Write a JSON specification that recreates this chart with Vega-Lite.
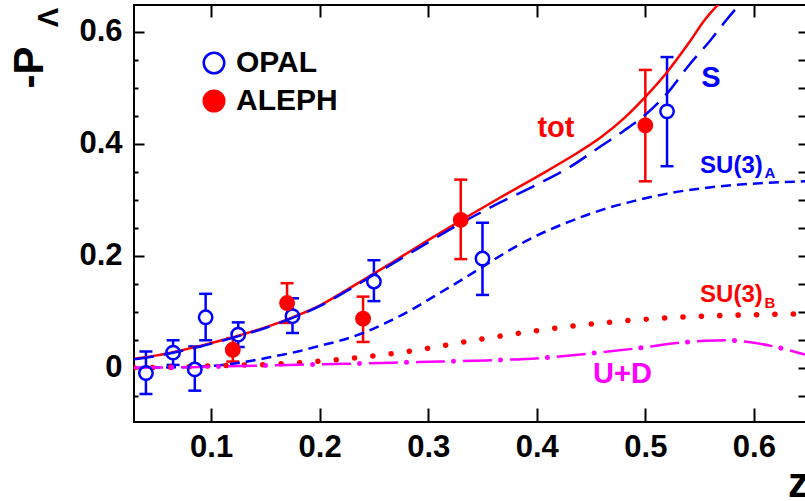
{
  "$schema": "https://vega.github.io/schema/vega-lite/v6.json",
  "width": 672,
  "height": 417,
  "autosize": {"type": "none"},
  "padding": {"left": 134, "top": 5, "right": 0, "bottom": 79},
  "background": "white",
  "config": {
    "view": {"stroke": "black", "strokeWidth": 2},
    "font": "Liberation Sans",
    "axis": {
      "domain": false, "grid": false, "tickColor": "black", "tickWidth": 2,
      "labelFont": "Liberation Sans", "labelFontWeight": "bold", "labelColor": "black", "labelFontSize": 31,
      "titleFont": "Liberation Sans", "titleFontWeight": "bold", "titleColor": "black",
      "labelFlush": false, "labelOverlap": false
    }
  },
  "resolve": {"axis": {"x": "independent", "y": "independent"}},
  "datasets": {
    "curves": [
      {"curve": "tot", "z": 0.029, "P": 0.016}, {"curve": "tot", "z": 0.05, "P": 0.022}, {"curve": "tot", "z": 0.07, "P": 0.030},
      {"curve": "tot", "z": 0.09, "P": 0.039}, {"curve": "tot", "z": 0.11, "P": 0.049}, {"curve": "tot", "z": 0.13, "P": 0.060},
      {"curve": "tot", "z": 0.15, "P": 0.072}, {"curve": "tot", "z": 0.175, "P": 0.090}, {"curve": "tot", "z": 0.20, "P": 0.111},
      {"curve": "tot", "z": 0.225, "P": 0.139}, {"curve": "tot", "z": 0.25, "P": 0.168}, {"curve": "tot", "z": 0.275, "P": 0.198},
      {"curve": "tot", "z": 0.30, "P": 0.228}, {"curve": "tot", "z": 0.33, "P": 0.263}, {"curve": "tot", "z": 0.36, "P": 0.297},
      {"curve": "tot", "z": 0.40, "P": 0.341}, {"curve": "tot", "z": 0.43, "P": 0.375}, {"curve": "tot", "z": 0.46, "P": 0.413},
      {"curve": "tot", "z": 0.48, "P": 0.445}, {"curve": "tot", "z": 0.50, "P": 0.484}, {"curve": "tot", "z": 0.52, "P": 0.528},
      {"curve": "tot", "z": 0.54, "P": 0.580}, {"curve": "tot", "z": 0.555, "P": 0.622}, {"curve": "tot", "z": 0.57, "P": 0.655},

      {"curve": "S", "z": 0.029, "P": 0.015}, {"curve": "S", "z": 0.05, "P": 0.021}, {"curve": "S", "z": 0.07, "P": 0.029},
      {"curve": "S", "z": 0.09, "P": 0.038}, {"curve": "S", "z": 0.11, "P": 0.048}, {"curve": "S", "z": 0.13, "P": 0.059},
      {"curve": "S", "z": 0.15, "P": 0.071}, {"curve": "S", "z": 0.175, "P": 0.089}, {"curve": "S", "z": 0.20, "P": 0.110},
      {"curve": "S", "z": 0.225, "P": 0.137}, {"curve": "S", "z": 0.25, "P": 0.166}, {"curve": "S", "z": 0.275, "P": 0.195},
      {"curve": "S", "z": 0.30, "P": 0.224}, {"curve": "S", "z": 0.33, "P": 0.258}, {"curve": "S", "z": 0.36, "P": 0.289},
      {"curve": "S", "z": 0.40, "P": 0.327}, {"curve": "S", "z": 0.43, "P": 0.358}, {"curve": "S", "z": 0.46, "P": 0.397},
      {"curve": "S", "z": 0.48, "P": 0.423}, {"curve": "S", "z": 0.50, "P": 0.452}, {"curve": "S", "z": 0.52, "P": 0.490},
      {"curve": "S", "z": 0.54, "P": 0.540}, {"curve": "S", "z": 0.56, "P": 0.585}, {"curve": "S", "z": 0.575, "P": 0.622},
      {"curve": "S", "z": 0.59, "P": 0.656},

      {"curve": "SU3A", "z": 0.029, "P": 0.0}, {"curve": "SU3A", "z": 0.06, "P": 0.0005}, {"curve": "SU3A", "z": 0.09, "P": 0.002},
      {"curve": "SU3A", "z": 0.11, "P": 0.005}, {"curve": "SU3A", "z": 0.13, "P": 0.010}, {"curve": "SU3A", "z": 0.155, "P": 0.019},
      {"curve": "SU3A", "z": 0.18, "P": 0.029}, {"curve": "SU3A", "z": 0.20, "P": 0.039}, {"curve": "SU3A", "z": 0.22, "P": 0.049},
      {"curve": "SU3A", "z": 0.24, "P": 0.062}, {"curve": "SU3A", "z": 0.26, "P": 0.079}, {"curve": "SU3A", "z": 0.285, "P": 0.104},
      {"curve": "SU3A", "z": 0.305, "P": 0.127}, {"curve": "SU3A", "z": 0.33, "P": 0.156}, {"curve": "SU3A", "z": 0.35, "P": 0.180},
      {"curve": "SU3A", "z": 0.375, "P": 0.210}, {"curve": "SU3A", "z": 0.40, "P": 0.236}, {"curve": "SU3A", "z": 0.43, "P": 0.261},
      {"curve": "SU3A", "z": 0.46, "P": 0.282}, {"curve": "SU3A", "z": 0.49, "P": 0.298}, {"curve": "SU3A", "z": 0.52, "P": 0.311},
      {"curve": "SU3A", "z": 0.55, "P": 0.320}, {"curve": "SU3A", "z": 0.58, "P": 0.326}, {"curve": "SU3A", "z": 0.61, "P": 0.330},
      {"curve": "SU3A", "z": 0.648, "P": 0.333},

      {"curve": "SU3B", "z": 0.029, "P": 0.0}, {"curve": "SU3B", "z": 0.06, "P": 0.0005}, {"curve": "SU3B", "z": 0.096, "P": 0.003},
      {"curve": "SU3B", "z": 0.125, "P": 0.0045}, {"curve": "SU3B", "z": 0.155, "P": 0.006}, {"curve": "SU3B", "z": 0.188, "P": 0.010},
      {"curve": "SU3B", "z": 0.222, "P": 0.0155}, {"curve": "SU3B", "z": 0.2575, "P": 0.023}, {"curve": "SU3B", "z": 0.2744, "P": 0.027},
      {"curve": "SU3B", "z": 0.31, "P": 0.038}, {"curve": "SU3B", "z": 0.342, "P": 0.049}, {"curve": "SU3B", "z": 0.375, "P": 0.059},
      {"curve": "SU3B", "z": 0.41, "P": 0.069}, {"curve": "SU3B", "z": 0.445, "P": 0.077}, {"curve": "SU3B", "z": 0.477, "P": 0.083},
      {"curve": "SU3B", "z": 0.51, "P": 0.088}, {"curve": "SU3B", "z": 0.545, "P": 0.0915}, {"curve": "SU3B", "z": 0.575, "P": 0.0935},
      {"curve": "SU3B", "z": 0.605, "P": 0.0948}, {"curve": "SU3B", "z": 0.648, "P": 0.0965},

      {"curve": "UD", "z": 0.029, "P": 0.0}, {"curve": "UD", "z": 0.08, "P": 0.001}, {"curve": "UD", "z": 0.127, "P": 0.003},
      {"curve": "UD", "z": 0.182, "P": 0.0055}, {"curve": "UD", "z": 0.225, "P": 0.007}, {"curve": "UD", "z": 0.268, "P": 0.009},
      {"curve": "UD", "z": 0.311, "P": 0.011}, {"curve": "UD", "z": 0.354, "P": 0.013}, {"curve": "UD", "z": 0.4035, "P": 0.0173},
      {"curve": "UD", "z": 0.4466, "P": 0.025}, {"curve": "UD", "z": 0.4896, "P": 0.034}, {"curve": "UD", "z": 0.531, "P": 0.0445},
      {"curve": "UD", "z": 0.555, "P": 0.048}, {"curve": "UD", "z": 0.574, "P": 0.049}, {"curve": "UD", "z": 0.595, "P": 0.046},
      {"curve": "UD", "z": 0.6157, "P": 0.039}, {"curve": "UD", "z": 0.648, "P": 0.023}
    ],
    "points": [
      {"exp": "OPAL", "z": 0.04, "P": -0.0095, "lo": -0.047, "hi": 0.029},
      {"exp": "OPAL", "z": 0.065, "P": 0.027, "lo": 0.005, "hi": 0.049},
      {"exp": "OPAL", "z": 0.085, "P": -0.003, "lo": -0.041, "hi": 0.038},
      {"exp": "OPAL", "z": 0.095, "P": 0.090, "lo": 0.049, "hi": 0.132},
      {"exp": "OPAL", "z": 0.125, "P": 0.059, "lo": 0.037, "hi": 0.081},
      {"exp": "OPAL", "z": 0.175, "P": 0.092, "lo": 0.062, "hi": 0.124},
      {"exp": "OPAL", "z": 0.25, "P": 0.154, "lo": 0.119, "hi": 0.192},
      {"exp": "OPAL", "z": 0.35, "P": 0.195, "lo": 0.130, "hi": 0.259},
      {"exp": "OPAL", "z": 0.52, "P": 0.458, "lo": 0.360, "hi": 0.555},
      {"exp": "ALEPH", "z": 0.12, "P": 0.032, "lo": 0.011, "hi": 0.053},
      {"exp": "ALEPH", "z": 0.17, "P": 0.1155, "lo": 0.080, "hi": 0.151},
      {"exp": "ALEPH", "z": 0.24, "P": 0.0875, "lo": 0.046, "hi": 0.127},
      {"exp": "ALEPH", "z": 0.33, "P": 0.264, "lo": 0.194, "hi": 0.336},
      {"exp": "ALEPH", "z": 0.50, "P": 0.433, "lo": 0.333, "hi": 0.532}
    ]
  },
  "layer": [
    {
      "data": {"name": "points"},
      "mark": {"type": "rule", "strokeWidth": 2.5},
      "encoding": {
        "x": {"field": "z", "type": "quantitative", "scale": {"domain": [0.029, 0.648], "zero": false, "nice": false}, "axis": null},
        "y": {"field": "lo", "type": "quantitative", "scale": {"domain": [-0.097, 0.648], "zero": false, "nice": false}, "axis": null},
        "y2": {"field": "hi"},
        "color": {"field": "exp", "type": "nominal", "scale": {"domain": ["tot", "S", "SU3A", "SU3B", "UD", "OPAL", "ALEPH"], "range": ["#ff0000", "#0000ff", "#0000ff", "#ff0000", "#ff00ff", "#0000ff", "#ff0000"]}, "legend": null}
      }
    },
    {
      "data": {"name": "points"},
      "mark": {"type": "tick", "orient": "horizontal", "size": 13, "thickness": 2.5, "opacity": 1},
      "encoding": {
        "x": {"field": "z", "type": "quantitative", "scale": {"domain": [0.029, 0.648], "zero": false, "nice": false}, "axis": null},
        "y": {"field": "hi", "type": "quantitative", "scale": {"domain": [-0.097, 0.648], "zero": false, "nice": false}, "axis": null},
        "color": {"field": "exp", "type": "nominal", "legend": null}
      }
    },
    {
      "data": {"name": "points"},
      "mark": {"type": "tick", "orient": "horizontal", "size": 13, "thickness": 2.5, "opacity": 1},
      "encoding": {
        "x": {"field": "z", "type": "quantitative", "scale": {"domain": [0.029, 0.648], "zero": false, "nice": false}, "axis": null},
        "y": {"field": "lo", "type": "quantitative", "scale": {"domain": [-0.097, 0.648], "zero": false, "nice": false}, "axis": null},
        "color": {"field": "exp", "type": "nominal", "legend": null}
      }
    },
    {
      "data": {"name": "points"},
      "transform": [{"filter": "datum.exp === 'OPAL'"}],
      "mark": {"type": "point", "shape": "circle", "filled": true, "fill": "white", "size": 190, "strokeWidth": 0, "opacity": 1},
      "encoding": {
        "x": {"field": "z", "type": "quantitative", "scale": {"domain": [0.029, 0.648], "zero": false, "nice": false}, "axis": null},
        "y": {"field": "P", "type": "quantitative", "scale": {"domain": [-0.097, 0.648], "zero": false, "nice": false}, "axis": null}
      }
    },
    {
      "data": {"name": "curves"},
      "transform": [{"filter": "datum.curve === 'tot'"}],
      "mark": {"type": "line", "clip": true, "color": "#ff0000", "strokeWidth": 2.5, "interpolate": "monotone"},
      "encoding": {
        "x": {"field": "z", "type": "quantitative", "scale": {"domain": [0.029, 0.648], "zero": false, "nice": false},
          "axis": {"orient": "bottom", "values": [0.1, 0.2, 0.3, 0.4, 0.5, 0.6], "format": ".1~f", "tickSize": -14, "labelPadding": 24,
            "title": "z", "titleFontSize": 42, "titleX": 664, "titleY": 74, "titleAlign": "center", "titleBaseline": "alphabetic", "titleAngle": 0}},
        "y": {"field": "P", "type": "quantitative", "scale": {"domain": [-0.097, 0.648], "zero": false, "nice": false},
          "axis": {"orient": "left", "values": [0, 0.2, 0.4, 0.6], "format": ".1~f", "tickSize": -10, "labelPadding": 22,
            "title": "-P", "titleFontSize": 42, "titleAngle": 270, "titleX": -92, "titleY": 62, "titleAlign": "center", "titleBaseline": "alphabetic"}}
      }
    },
    {
      "data": {"name": "curves"},
      "transform": [{"filter": "datum.curve === 'S'"}],
      "mark": {"type": "line", "clip": true, "color": "#0000ff", "strokeWidth": 2.5, "strokeDash": [20, 10], "interpolate": "monotone"},
      "encoding": {
        "x": {"field": "z", "type": "quantitative", "scale": {"domain": [0.029, 0.648], "zero": false, "nice": false},
          "axis": {"orient": "top", "values": [0.1, 0.2, 0.3, 0.4, 0.5, 0.6], "tickSize": -12, "labels": false, "title": null}},
        "y": {"field": "P", "type": "quantitative", "scale": {"domain": [-0.097, 0.648], "zero": false, "nice": false},
          "axis": {"orient": "left", "values": [-0.05, 0.05, 0.1, 0.15, 0.25, 0.3, 0.35, 0.45, 0.5, 0.55], "tickSize": -4, "labels": false,
            "title": "Λ", "titleFontSize": 29, "titleAngle": 270, "titleX": -77, "titleY": 12, "titleAlign": "center", "titleBaseline": "alphabetic"}}
      }
    },
    {
      "data": {"name": "curves"},
      "transform": [{"filter": "datum.curve === 'SU3A'"}],
      "mark": {"type": "line", "clip": true, "color": "#0000ff", "strokeWidth": 2.5, "strokeDash": [10, 6], "interpolate": "monotone"},
      "encoding": {
        "x": {"field": "z", "type": "quantitative", "scale": {"domain": [0.029, 0.648], "zero": false, "nice": false}, "axis": null},
        "y": {"field": "P", "type": "quantitative", "scale": {"domain": [-0.097, 0.648], "zero": false, "nice": false},
          "axis": {"orient": "right", "values": [-0.05, 0, 0.05, 0.1, 0.15, 0.2, 0.25, 0.3, 0.35, 0.4, 0.45, 0.5, 0.55, 0.6], "tickSize": -8, "labels": false, "title": null}}
      }
    },
    {
      "data": {"name": "curves"},
      "transform": [{"filter": "datum.curve === 'SU3B'"}],
      "mark": {"type": "line", "clip": true, "color": "#ff0000", "strokeWidth": 5.5, "strokeCap": "round", "strokeDash": [0.1, 18.3], "interpolate": "monotone"},
      "encoding": {
        "x": {"field": "z", "type": "quantitative", "scale": {"domain": [0.029, 0.648], "zero": false, "nice": false}, "axis": null},
        "y": {"field": "P", "type": "quantitative", "scale": {"domain": [-0.097, 0.648], "zero": false, "nice": false}, "axis": null}
      }
    },
    {
      "data": {"name": "curves"},
      "transform": [{"filter": "datum.curve === 'UD'"}],
      "mark": {"type": "line", "clip": true, "color": "#ff00ff", "strokeWidth": 2.5, "strokeDash": [29, 18], "interpolate": "monotone"},
      "encoding": {
        "x": {"field": "z", "type": "quantitative", "scale": {"domain": [0.029, 0.648], "zero": false, "nice": false}, "axis": null},
        "y": {"field": "P", "type": "quantitative", "scale": {"domain": [-0.097, 0.648], "zero": false, "nice": false}, "axis": null}
      }
    },
    {
      "data": {"name": "curves"},
      "transform": [{"filter": "datum.curve === 'UD'"}],
      "mark": {"type": "line", "clip": true, "color": "#ff00ff", "strokeWidth": 5, "strokeCap": "round", "strokeDash": [0.1, 46.9], "strokeDashOffset": 9.5, "interpolate": "monotone"},
      "encoding": {
        "x": {"field": "z", "type": "quantitative", "scale": {"domain": [0.029, 0.648], "zero": false, "nice": false}, "axis": null},
        "y": {"field": "P", "type": "quantitative", "scale": {"domain": [-0.097, 0.648], "zero": false, "nice": false}, "axis": null}
      }
    },
    {
      "data": {"values": [
        {"label": "tot", "series": "tot", "z": 0.4177, "P": 0.4122},
        {"label": "S", "series": "S", "z": 0.5605, "P": 0.5015},
        {"label": "U+D", "series": "UD", "z": 0.479, "P": -0.0273}
      ]},
      "mark": {"type": "text", "font": "Liberation Sans", "fontWeight": "bold", "fontSize": 29, "align": "center", "baseline": "alphabetic"},
      "encoding": {
        "x": {"field": "z", "type": "quantitative", "scale": {"domain": [0.029, 0.648], "zero": false, "nice": false}, "axis": null},
        "y": {"field": "P", "type": "quantitative", "scale": {"domain": [-0.097, 0.648], "zero": false, "nice": false}, "axis": null},
        "text": {"field": "label"},
        "color": {"field": "series", "type": "nominal", "legend": null}
      }
    },
    {
      "data": {"values": [
        {"label": "SU(3)", "series": "SU3A", "z": 0.5504, "P": 0.3478},
        {"label": "SU(3)", "series": "SU3B", "z": 0.5504, "P": 0.1179}
      ]},
      "mark": {"type": "text", "font": "Liberation Sans", "fontWeight": "bold", "fontSize": 24, "align": "left", "baseline": "alphabetic"},
      "encoding": {
        "x": {"field": "z", "type": "quantitative", "scale": {"domain": [0.029, 0.648], "zero": false, "nice": false}, "axis": null},
        "y": {"field": "P", "type": "quantitative", "scale": {"domain": [-0.097, 0.648], "zero": false, "nice": false}, "axis": null},
        "text": {"field": "label"},
        "color": {"field": "series", "type": "nominal", "legend": null}
      }
    },
    {
      "data": {"values": [
        {"label": "A", "series": "SU3A", "z": 0.6098, "P": 0.3389},
        {"label": "B", "series": "SU3B", "z": 0.6098, "P": 0.1066}
      ]},
      "mark": {"type": "text", "font": "Liberation Sans", "fontWeight": "bold", "fontSize": 15, "align": "left", "baseline": "alphabetic"},
      "encoding": {
        "x": {"field": "z", "type": "quantitative", "scale": {"domain": [0.029, 0.648], "zero": false, "nice": false}, "axis": null},
        "y": {"field": "P", "type": "quantitative", "scale": {"domain": [-0.097, 0.648], "zero": false, "nice": false}, "axis": null},
        "text": {"field": "label"},
        "color": {"field": "series", "type": "nominal", "legend": null}
      }
    },
    {
      "data": {"name": "points"},
      "mark": {"type": "point", "shape": "circle", "size": 180, "strokeWidth": 2.5, "opacity": 1},
      "encoding": {
        "x": {"field": "z", "type": "quantitative", "scale": {"domain": [0.029, 0.648], "zero": false, "nice": false}, "axis": null},
        "y": {"field": "P", "type": "quantitative", "scale": {"domain": [-0.097, 0.648], "zero": false, "nice": false}, "axis": null},
        "fill": {"field": "exp", "type": "nominal", "scale": {"domain": ["OPAL", "ALEPH"], "range": ["transparent", "#ff0000"]},
          "legend": {"orient": "none", "legendX": 65, "legendY": 43, "title": null, "labelFont": "Liberation Sans", "labelFontWeight": "bold", "labelFontSize": 30, "labelColor": "black", "symbolSize": 420, "symbolStrokeWidth": 2.5, "symbolType": "circle", "rowPadding": 6, "labelOffset": 7, "padding": 0}},
        "stroke": {"field": "exp", "type": "nominal", "scale": {"domain": ["OPAL", "ALEPH"], "range": ["#0000ff", "#ff0000"]},
          "legend": {"orient": "none", "legendX": 65, "legendY": 43, "title": null, "labelFont": "Liberation Sans", "labelFontWeight": "bold", "labelFontSize": 30, "labelColor": "black", "symbolSize": 420, "symbolStrokeWidth": 2.5, "symbolType": "circle", "rowPadding": 6, "labelOffset": 7, "padding": 0}}
      }
    }
  ]
}
